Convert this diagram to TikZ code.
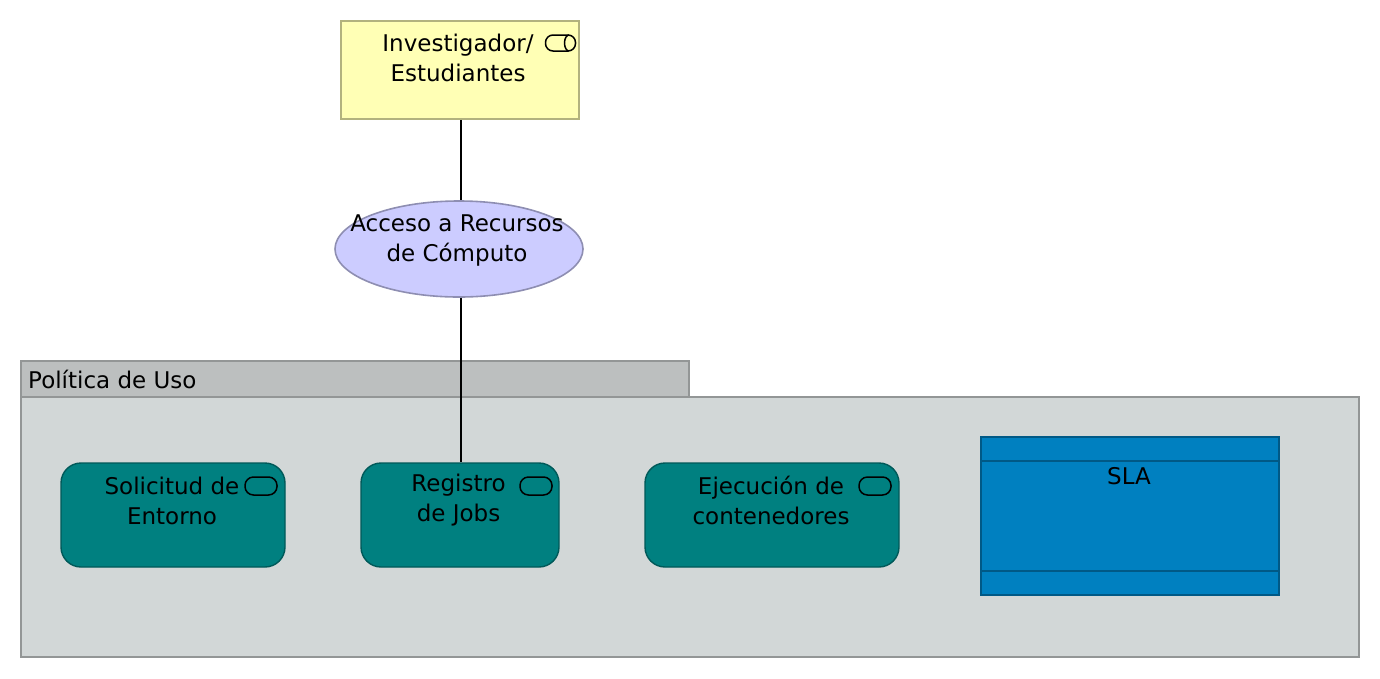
\documentclass[tikz,border=0pt]{standalone}
\usepackage{fontspec}
\setmainfont{DejaVu Sans}
\usetikzlibrary{shapes.geometric}
\definecolor{actorfill}{HTML}{FFFFB5}
\definecolor{actorline}{HTML}{B2B27E}
\definecolor{ifill}{HTML}{CCCCFF}
\definecolor{iline}{HTML}{8E8EB2}
\definecolor{grpfill}{HTML}{D2D7D7}
\definecolor{grphead}{HTML}{BCBFBF}
\definecolor{grpline}{HTML}{939696}
\definecolor{procfill}{HTML}{008080}
\definecolor{procline}{HTML}{005959}
\definecolor{slafill}{HTML}{0080C0}
\definecolor{slaline}{HTML}{005986}
\tikzset{
  x=1pt,y=-1pt,
  lbl/.style={font=\fontsize{23}{30}\selectfont,align=center,inner sep=0pt,text=black},
  actorbox/.style={draw=actorline,fill=actorfill,line width=1.6pt,minimum width=238pt,minimum height=98pt,inner sep=0pt},
  iface/.style={ellipse,draw=iline,fill=ifill,line width=1.6pt,minimum width=248pt,minimum height=96pt,inner sep=0pt},
  procbox/.style={draw=procline,fill=procfill,line width=1.4pt,rounded corners=20pt,minimum height=104pt,inner sep=0pt},
  slabox/.style={draw=slaline,fill=slafill,line width=1.6pt,minimum width=298pt,minimum height=158pt,inner sep=0pt},
  grpbody/.style={draw=grpline,fill=grpfill,line width=1.8pt,minimum width=1338pt,minimum height=260pt,inner sep=0pt},
  grphead/.style={draw=grpline,fill=grphead,line width=1.8pt,minimum width=668pt,minimum height=36pt,inner sep=0pt},
  conn/.style={draw=black,line width=1.6pt},
  icon/.style={draw=black,line width=1.5pt,rounded corners=8.5pt,minimum width=32pt,minimum height=18pt,inner sep=0pt}
}
\begin{document}
\begin{tikzpicture}
\useasboundingbox (0,0) rectangle (1380,678);
\fill[white] (0,0) rectangle (1380,678);
% grouping
\node[grphead] (ghead) at (355,379) {};
\node[grpbody] (gbody) at (690,527) {};
\node[lbl,anchor=west] (gtitle) at (28,379) {Política de Uso};
% nodes
\node[actorbox] (actor) at (460,70) {};
\node[iface] (acceso) at (459,249) {};
\node[procbox,minimum width=224pt] (sol) at (173,515) {};
\node[procbox,minimum width=198pt] (reg) at (460,515) {};
\node[procbox,minimum width=254pt] (eje) at (772,515) {};
\node[slabox] (sla) at (1130,516) {};
% connectors
\draw[conn] ([xshift=1pt]actor.south) -- ([xshift=2pt]acceso.north);
\coordinate (regtop) at ([xshift=1pt]reg.north);
\draw[conn] ([xshift=2pt]acceso.south) -- (regtop);
% labels
\node[lbl] (tactor) at (458,58) {Investigador/\\Estudiantes};
\node[lbl] (tacceso) at (457,241) {Acceso a Recursos\\de Cómputo};
\node[lbl] (tsol) at (172,500.5) {Solicitud de\\Entorno};
\node[lbl] (treg) at (458.5,500.5) {Registro\\de Jobs};
\node[lbl] (teje) at (771,500.5) {Ejecución de\\contenedores};
\node[lbl] (tsla) at (1129,476) {SLA};
% SLA bands
\draw[draw=slaline,line width=1.4pt] (sla.west |- 0,461) -- (sla.east |- 0,461);
\draw[draw=slaline,line width=1.4pt] (sla.west |- 0,571) -- (sla.east |- 0,571);
% icons
\node[icon,minimum width=30pt,minimum height=16pt,rounded corners=7.5pt] (iact) at (560.5,43) {};
\draw[black,line width=1.5pt] (569,35) arc[start angle=90,end angle=270,x radius=4.5pt,y radius=8pt];
\node[icon] (isol) at (261,486) {};
\node[icon] (ireg) at (536,486) {};
\node[icon] (ieje) at (875,486) {};
\end{tikzpicture}
\end{document}
